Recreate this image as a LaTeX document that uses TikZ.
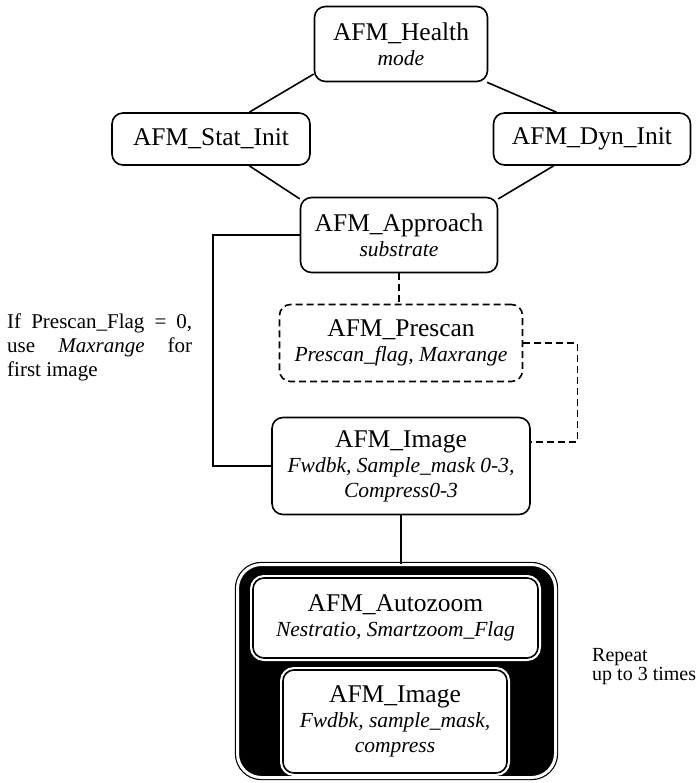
\documentclass[tikz,border=0pt]{standalone}
\usepackage{fontspec}
\setmainfont{Liberation Serif}

\newcommand{\modname}[1]{{\fontsize{25.5}{26}\selectfont #1}}
\newcommand{\modargs}[1]{{\fontsize{21.5}{24}\selectfont\itshape #1}}

\begin{document}
\begin{tikzpicture}[x=1pt,y=1pt]
\useasboundingbox (0,0) rectangle (700,-783);

\begin{scope}[every node/.style={rectangle,rounded corners=11pt,draw,line width=1.6pt,
              align=center,inner sep=2pt,font=\fontsize{21.5}{25}\selectfont}]
    \node[minimum width=173pt,minimum height=75pt] (health) at (401,-44) {\modname{AFM\_Health}\\\modargs{mode}};
	\node[minimum width=198pt,minimum height=52pt] (stat_init) at (211,-139) {\modname{AFM\_Stat\_Init}};
	\node[minimum width=197pt,minimum height=52pt] (dyn_init) at (592,-139) {\modname{AFM\_Dyn\_Init}};
	\node[minimum width=197pt,minimum height=75pt] (approach) at (399,-235) {\modname{AFM\_Approach}\\\modargs{substrate}};
	\node[dash pattern=on 7pt off 4pt,minimum width=243pt,minimum height=77pt] (prescan) at (401,-343) {\modname{AFM\_Prescan}\\\modargs{Prescan\_flag, Maxrange}};
	\node[minimum width=258pt,minimum height=97pt] (image) at (401,-466) {\modname{AFM\_Image}\\\modargs{Fwdbk, Sample\_mask 0-3,}\\\modargs{Compress0-3}};

	% repeated loop
	\node[line width=1.2pt,double=white,double distance=3pt,fill=black,rounded corners=24pt,
	      minimum width=318pt,minimum height=213pt] (repeat_box) at (396.5,-671) {};
	\node[fill=white,preaction={draw=white,line width=6pt},minimum width=285pt,minimum height=80pt] (autozoom) at (395.5,-618) {\modname{AFM\_Autozoom}\\\modargs{Nestratio, Smartzoom\_Flag}};
	\node[fill=white,preaction={draw=white,line width=6pt},minimum width=224pt,minimum height=103pt] (image_inner) at (395,-721.5) {\modname{AFM\_Image}\\\modargs{Fwdbk, sample\_mask,}\\\modargs{compress}};
\end{scope}

\node[anchor=north west,text width=185pt,align=justify,inner sep=0pt,
      font=\fontsize{21}{24}\selectfont] (prescan_note) at (7,-314)
      {If Prescan\_Flag = 0,\linebreak use \textit{Maxrange} for\linebreak first image};
\node[anchor=north west,align=left,inner sep=0pt,font=\fontsize{20}{19}\selectfont] (repeat_note) at (592,-648) {Repeat\\up to 3 times};

\begin{scope}[every edge/.style={draw,line width=1.6pt}]
    \path (health.199) edge (stat_init.35);
    \path (health.-24) edge (dyn_init.143);
    	
    	\path (stat_init.-35) edge (approach.160);
    	\path (dyn_init.-145) edge (approach.20);
\end{scope}

\draw[line width=2.4pt] (approach.west) -- ++(-87,0) |- (image.west);
\draw[line width=1.6pt,dash pattern=on 7pt off 4pt] (approach.south) -- (approach.south |- prescan.north);
\draw[line width=1.6pt,dash pattern=on 7pt off 4pt] (prescan.east) -- ++(54,0) |- ([yshift=24pt]image.east);
\draw[line width=1.6pt] (image.south) -- (image.south |- repeat_box.north);
\end{tikzpicture}
\end{document}
